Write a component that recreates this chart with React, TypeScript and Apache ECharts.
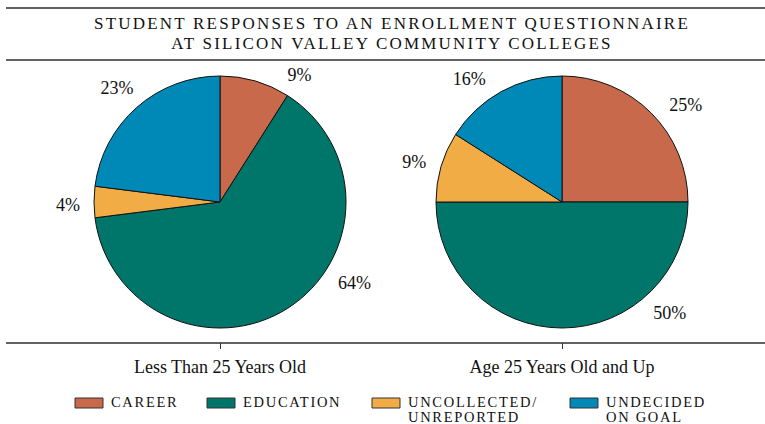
import React, { useEffect, useRef } from "react";
import * as echarts from "echarts";

// ---- data ----
const categories = ["CAREER", "EDUCATION", "UNCOLLECTED/\nUNREPORTED", "UNDECIDED\nON GOAL"];
const groups = ["Less Than 25 Years Old", "Age 25 Years Old and Up"];
const under25 = [9, 64, 4, 23];
const age25up = [25, 50, 9, 16];
const titleLines = ["STUDENT RESPONSES TO AN ENROLLMENT QUESTIONNAIRE", "AT SILICON VALLEY COMMUNITY COLLEGES"];

// ---- style / layout ----
const colors = ["#C8694B", "#00766A", "#F2AC46", "#0089B6"];
const ink = "#111111";
const ruleColor = "#2e2e2e";
const pieCenters = [
  [220, 202],
  [562, 202],
];
const pieRadius = 126;
// label placement (angle clockwise from top, distance from centre)
const labelAngles = [
  [32, 121, 269, 318],
  [52, 136, 285, 323],
];
const labelDist = [
  [150, 157, 152, 154],
  [157, 155, 153, 154],
];
const legendX = [75, 207, 372, 570];

export default function App() {
  const ref = useRef<HTMLDivElement>(null);

  useEffect(() => {
    if (!ref.current) return;
    const chart = echarts.init(ref.current, undefined, { renderer: "svg" });
    const seriesValues = [under25, age25up];

    const pies = seriesValues.map((vals, k) => ({
      type: "pie",
      name: groups[k],
      center: pieCenters[k],
      radius: pieRadius,
      startAngle: 90,
      clockwise: true,
      silent: true,
      avoidLabelOverlap: false,
      emphasis: { disabled: true },
      itemStyle: { borderColor: ink, borderWidth: 1 },
      label: {
        show: true,
        position: "outside",
        formatter: "{c}%",
        fontSize: 18,
        fontFamily: "Liberation Serif, serif",
        color: ink,
      },
      labelLine: { show: false },
      labelLayout: (p: any) => {
        const a = (labelAngles[k][p.dataIndex] * Math.PI) / 180;
        const r = labelDist[k][p.dataIndex];
        return {
          x: pieCenters[k][0] + r * Math.sin(a),
          y: pieCenters[k][1] - r * Math.cos(a),
          align: "center",
          verticalAlign: "middle",
        };
      },
      data: categories.map((c, i) => ({
        name: c,
        value: vals[i],
        itemStyle: { color: colors[i] },
      })),
    }));

    const rule = (y: number) => ({
      type: "line",
      shape: { x1: 6, y1: y, x2: 765, y2: y },
      style: { stroke: ruleColor, lineWidth: 1.6 },
      silent: true,
    });

    const legend: any[] = [];
    categories.forEach((c, i) => {
      legend.push({
        type: "rect",
        shape: { x: legendX[i], y: 398, width: 28, height: 10 },
        style: { fill: colors[i], stroke: "#333", lineWidth: 1 },
        silent: true,
      });
      legend.push({
        type: "text",
        x: legendX[i] + 36,
        y: 395,
        silent: true,
        style: {
          text: c,
          fontSize: 14.5,
          fontFamily: "Liberation Serif, lgdspc, serif",
          fill: ink,
          lineHeight: 14.5,
          verticalAlign: "top",
          align: "left",
        },
      });
    });

    chart.setOption({
      animation: false,
      title: {
        text: titleLines.join("\n"),
        left: 392,
        top: 13,
        padding: 0,
        textAlign: "center",
        textStyle: {
          fontFamily: "Liberation Serif, ttlspc, serif",
          fontSize: 17,
          fontWeight: "normal",
          color: ink,
          lineHeight: 20,
        },
      },
      grid: { left: 49, width: 684, top: 300, height: 43 },
      xAxis: {
        type: "category",
        data: groups,
        axisLine: { show: false },
        axisTick: {
          show: true,
          alignWithLabel: true,
          length: 6,
          lineStyle: { color: "#333", width: 1 },
        },
        axisLabel: {
          fontSize: 18,
          fontFamily: "Liberation Serif, serif",
          color: ink,
          margin: 15,
        },
        splitLine: { show: false },
      },
      yAxis: { type: "value", show: false },
      graphic: [rule(8), rule(60), rule(343), ...legend],
      series: pies,
    });

    return () => chart.dispose();
  }, []);

  return (
    <>
      <style>{`
        #pie-root text[style*="ttlspc"], #pie-root text[font-family*="ttlspc"] { letter-spacing: 2.2px; }
        #pie-root text[style*="lgdspc"], #pie-root text[font-family*="lgdspc"] { letter-spacing: 1.7px; }
      `}</style>
      <div
        id="pie-root"
        ref={ref}
        style={{ position: "absolute", left: 0, top: 0, width: 765, height: 424, background: "#fff" }}
      />
    </>
  );
}
